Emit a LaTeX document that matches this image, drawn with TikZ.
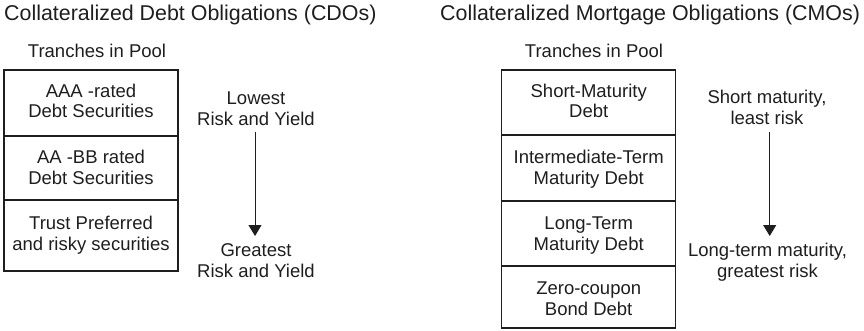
\documentclass[tikz,border=0pt]{standalone}
\usepackage{fontspec}
\setmainfont{Liberation Sans}
\usetikzlibrary{arrows.meta}
\definecolor{ink}{HTML}{1E1E1E}
\tikzset{
  body/.style={font=\fontsize{18.5}{20.4}\selectfont, text=ink, inner sep=0pt, align=center, anchor=base},
  ttl/.style={font=\fontsize{21.4}{24}\selectfont, text=ink, inner sep=0pt, anchor=base west},
  cell/.style={draw=ink, line width=1.1pt, inner sep=0pt},
  flow/.style={draw=ink, line width=1pt, -{Triangle[width=13pt,length=11pt]}}
}
\begin{document}
\begin{tikzpicture}[x=1pt,y=-1pt]
\useasboundingbox (0,0) rectangle (864,330);
% titles
\node[ttl] (t1) at (4,20.7) {Collateralized Debt Obligations (CDOs)};
\node[ttl] (t2) at (440,20.7) {Collateralized Mortgage Obligations (CMOs)};
\node[body] (p1) at (97,57) {Tranches in Pool};
\node[body] (p2) at (594,57) {Tranches in Pool};
% left cells
\draw[cell] (4,70) rectangle (178,271);
\draw[cell] (4,136) -- (178,136);
\draw[cell] (4,200) -- (178,200);
\node[body] (l1) at (91,117.7) {AAA -rated\\Debt Securities};
\node[body] (l2) at (91,184.3) {AA -BB rated\\Debt Securities};
\node[body] (l3) at (91,250) {Trust Preferred\\and risky securities};
% right cells
\draw[cell] (501.7,70) rectangle (675.7,328);
\draw[cell] (501.7,135) -- (675.7,135);
\draw[cell] (501.7,201) -- (675.7,201);
\draw[cell] (501.7,266) -- (675.7,266);
\node[body] (r1) at (588.7,117.7) {Short-Maturity\\Debt};
\node[body] (r2) at (588.7,184.3) {Intermediate-Term\\Maturity Debt};
\node[body] (r3) at (588.7,250) {Long-Term\\Maturity Debt};
\node[body] (r4) at (588.7,315) {Zero-coupon\\Bond Debt};
% left arrow
\node[body] (lt) at (256,125) {Lowest\\Risk and Yield};
\node[body] (lb) at (256,277) {Greatest\\Risk and Yield};
\coordinate (la) at (255,131.7);
\coordinate (lz) at (255,236);
\draw[flow] (la) -- (lz);
% right arrow
\node[body] (rt) at (767,124) {Short maturity,\\least risk};
\node[body] (rb) at (767.5,277) {Long-term maturity,\\greatest risk};
\coordinate (ra) at (769.7,131.7);
\coordinate (rz) at (769.7,236);
\draw[flow] (ra) -- (rz);
\end{tikzpicture}
\end{document}
